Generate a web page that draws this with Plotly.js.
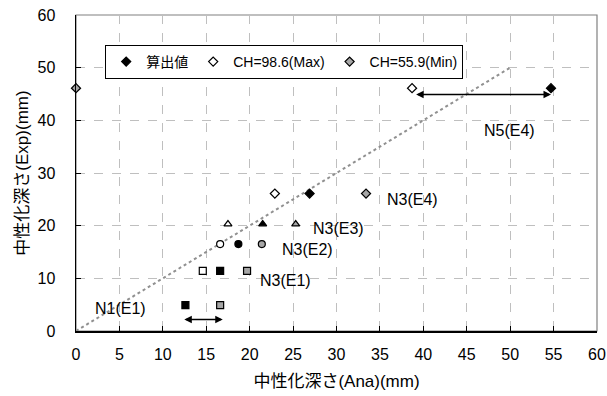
<!DOCTYPE html>
<html><head><meta charset="utf-8">
<script src="https://cdn.plot.ly/plotly-3.0.1.min.js"></script>
<style>html,body{margin:0;padding:0;background:#fff}#c{width:607px;height:396px}</style>
</head><body><div id="c"></div>
<script>
const groups = ['N5(E4)','N3(E4)','N3(E3)','N3(E2)','N3(E1)','N1(E1)'];
const seriesNames = ['算出値','CH=98.6(Max)','CH=55.9(Min)'];
const calcX = [54.7, 26.9, 21.5, 18.7, 16.6, 12.6];
const calcY = [46.1, 26.1, 20.3, 16.5, 11.4, 4.9];
const maxX  = [38.7, 22.9, 17.5, 16.6, 14.6, null];
const maxY  = [46.1, 26.1, 20.3, 16.5, 11.4, null];
const minX  = [0, 33.4, 25.3, 21.4, 19.7, 16.6];
const minY  = [46.1, 26.1, 20.3, 16.5, 11.4, 4.9];
const refX = [0, 50];
const refY = [0, 50];

const groupSymbol = ['diamond','diamond','triangle-up','circle','square','square'];
const fills = ['#000000','#ffffff','#a6a6a6'];
const font = "Arial, 'Liberation Sans', 'Noto Sans CJK JP', sans-serif";

function mk(i, xs, ys) {
  return {
    type:'scatter', mode:'markers', name: seriesNames[i],
    x: xs, y: ys, cliponaxis:false,
    marker:{symbol: groupSymbol, size: 7, color: fills[i], line:{color:'#000', width:1.2}}
  };
}
const traces = [
  {type:'scatter', mode:'lines', x: refX, y: refY, showlegend:false, hoverinfo:'skip',
   line:{color:'#909090', width:2, dash:'dot'}},
  mk(0, calcX, calcY), mk(1, maxX, maxY), mk(2, minX, minY)
];

const labelPos = [[49.9,38.0],[38.8,24.9],[30.2,19.5],[26.7,15.4],[24.1,9.5],[5.1,4.2]];
const ann = groups.map((g,i)=>({x:labelPos[i][0], y:labelPos[i][1], xref:'x', yref:'y', text:g,
  showarrow:false, font:{size:16, color:'#000', family:font}}));
ann.push({x:54.7, y:44.9, ax:39.0, ay:44.9, xref:'x', yref:'y', axref:'x', ayref:'y', text:'',
  showarrow:true, arrowhead:2, arrowside:'end+start', arrowsize:1, arrowwidth:1.5, arrowcolor:'#000'});
ann.push({x:16.9, y:2.2, ax:12.3, ay:2.2, xref:'x', yref:'y', axref:'x', ayref:'y', text:'',
  showarrow:true, arrowhead:2, arrowside:'end+start', arrowsize:1, arrowwidth:1.5, arrowcolor:'#000'});

const layout = {
  width:607, height:396,
  margin:{l:76, r:10, t:15, b:65},
  paper_bgcolor:'#fff', plot_bgcolor:'#fff',
  font:{family:font, size:16, color:'#000'},
  showlegend:true,
  legend:{orientation:'h', x:0.056, y:0.905, xanchor:'left', yanchor:'top',
    bgcolor:'#fff', bordercolor:'#000', borderwidth:1, font:{size:14}, itemwidth:20,
    tracegroupgap:0},
  xaxis:{range:[0,60], dtick:5, tick0:0, showgrid:true, gridcolor:'#bfbfbf', griddash:'dash', gridwidth:1,
    zeroline:false, showline:true, linecolor:'#000', linewidth:1.5, ticks:'inside', ticklen:5, tickcolor:'#000',
    tickfont:{size:16}, ticklabelstandoff:8, title:{text:'中性化深さ(Ana)(mm)', font:{size:17}, standoff:13}},
  yaxis:{range:[0,60], dtick:10, tick0:0, showgrid:true, gridcolor:'#bfbfbf', griddash:'dash', gridwidth:1,
    zeroline:false, showline:true, linecolor:'#000', linewidth:1.5, ticks:'inside', ticklen:5, tickcolor:'#000',
    tickfont:{size:16}, ticklabelstandoff:16, title:{text:'中性化深さ(Exp)(mm)', font:{size:17}, standoff:4}},
  shapes:[{type:'rect', xref:'paper', yref:'paper', x0:0, x1:1, y0:0, y1:1, line:{color:'#808080', width:1.2}, layer:'below'}],
  annotations: ann
};
Plotly.newPlot('c', traces, layout, {displayModeBar:false, staticPlot:true});
</script></body></html>
